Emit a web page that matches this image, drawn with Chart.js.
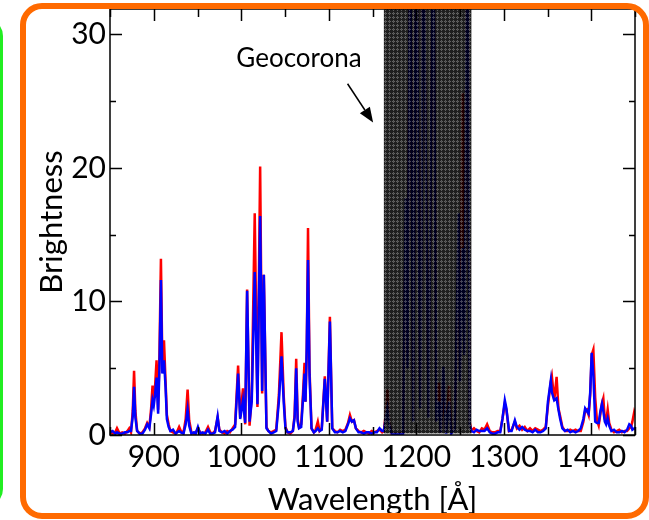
<!DOCTYPE html>
<html>
<head>
<meta charset="utf-8">
<title>Spectrum</title>
<script src="https://cdn.jsdelivr.net/npm/chart.js@4.4.0/dist/chart.umd.min.js"></script>
<style>
  html, body { margin: 0; padding: 0; background: #fff; }
  #wrap { position: relative; width: 649px; height: 520px; overflow: hidden; background: #fff; }
  #spectrum { position: absolute; left: 0; top: 0; }
  .box-orange {
    position: absolute; left: 20px; top: 3px; width: 617px; height: 504px;
    border: 6px solid #ff6a00; border-radius: 22px; pointer-events: none;
  }
  .box-green {
    position: absolute; left: -40px; top: 18px; width: 37px; height: 483px;
    border: 3px solid #22ee22; border-radius: 18px; pointer-events: none;
  }
</style>
</head>
<body>
<div id="wrap">
  <canvas id="spectrum" width="649" height="520"></canvas>
  <div class="box-green"></div>
  <div class="box-orange"></div>
</div>
<script>
// wavelength grid [Å]
const wavelength = [
  850, 853, 856, 858, 861, 864, 867, 870, 872, 874, 876, 877.5, 879, 881, 884, 887, 890, 892.5, 895, 897, 898.6, 900, 901.5, 903.2, 905, 906.5, 908.2, 909.8, 911.7, 913.5, 915, 917, 919,
  922, 925, 927, 929, 931, 934, 936.5, 938.7, 940.5, 943, 946, 948, 950.5, 953, 956, 959, 962, 964.5, 967, 970, 973, 975, 978, 981, 984, 987, 990, 993,
  996.4, 998.8, 1002, 1004.5, 1006.7, 1009.5, 1012, 1015.4, 1018.5, 1021.6, 1023.9, 1025.8, 1028.8, 1031,
  1034, 1037, 1040, 1043, 1046, 1048.5, 1050.5, 1053, 1056, 1059, 1061, 1062.8, 1064.5, 1066, 1068.5, 1070.5, 1072.3, 1073.4, 1074.8, 1076.3, 1078, 1080.3, 1083, 1085, 1087.5, 1089.5, 1092, 1095.5, 1098.2, 1101.3, 1104,
  1107, 1110, 1113, 1116, 1119, 1122, 1124.2, 1126.5, 1128.8, 1131, 1134, 1137, 1140, 1143, 1146, 1149, 1152, 1155, 1158, 1161,
  1163, 1165, 1167, 1169, 1172, 1180, 1185, 1188, 1190, 1193, 1196.5, 1200, 1204.5, 1206, 1208, 1214, 1219.5, 1223, 1226, 1228, 1231, 1234, 1237.5, 1240, 1244, 1248.5, 1250, 1253, 1255, 1258.5, 1261, 1263,
  1266, 1269, 1272, 1275, 1278, 1281, 1284, 1287, 1290, 1293, 1296, 1298.5, 1301.2, 1303, 1306, 1309, 1312.7, 1315, 1318, 1321, 1324, 1327, 1330, 1333, 1336, 1339, 1342, 1345, 1348,
  1350.5, 1353.8, 1355, 1357.7, 1360.4, 1362.5, 1364.5, 1367, 1370, 1373, 1376, 1379, 1382, 1385, 1388, 1391, 1393, 1395, 1397, 1398.8, 1400.5, 1402.4, 1404.5, 1406.5, 1408.5, 1410.5, 1412.3, 1413.8, 1415.5, 1417, 1418.8, 1420.5, 1423, 1426, 1429, 1432, 1435, 1438, 1441, 1443.5, 1445.5, 1447, 1449.2, 1450
];

// red spectrum
const fluxRed = [
  0.3, 0.1, 0.2, 0.5, 0.1, 0.2, 0.1, 0.3, 0.5, 0.2, 1.8, 4.8, 1.8, 0.3, 0.1, 0.2, 0.5, 0.9, 0.6, 2.0, 3.7, 3.0, 3.6, 5.6, 1.9, 6.0, 13.2, 5.5, 7.1, 4.0, 1.5, 0.8, 0.3,
  0.2, 0.1, 0.3, 0.6, 0.3, 0.2, 1.2, 3.4, 1.1, 0.2, 0.1, 0.2, 0.5, 0.2, 0.1, 0.2, 0.6, 0.2, 0.1, 0.3, 1.3, 0.4, 0.2, 0.1, 0.3, 0.2, 0.5, 0.8,
  5.2, 1.3, 3.5, 0.8, 10.9, 0.7, 3.0, 16.6, 2.1, 20.1, 3.1, 12.0, 0.6, 0.3,
  0.2, 0.3, 0.4, 3.0, 7.7, 3.0, 0.6, 0.2, 0.1, 0.3, 1.5, 5.7, 1.2, 0.6, 0.8, 3.0, 5.4, 2.5, 6.0, 15.5, 5.0, 0.5, 0.2, 0.4, 1.0, 0.3, 0.5, 4.4, 1.0, 8.85, 0.5,
  0.3, 0.2, 0.4, 0.3, 0.4, 0.9, 1.5, 1.0, 1.1, 0.5, 0.3, 0.2, 0.3, 0.2, 0.1, 0.3, 0.2, 0.3, 0.4, 0.2,
  0.3, 1.5, 3.4, 1.0, 0.1, 0.1, 0.2, 16, 6, 40, 1.2, 40, 2.2, 16, 40, 1.5, 40, 1.0, 3.9, 0.2, 3.0, 0.3, 3.7, 0.2, 0.5, 14, 5, 25.6, 8, 40, 1.0, 0.3,
  0.5, 0.3, 0.2, 0.5, 0.4, 0.8, 0.3, 0.2, 0.2, 0.3, 0.3, 1.2, 2.35, 1.9, 0.3, 0.4, 1.0, 0.5, 0.7, 0.4, 0.6, 0.3, 0.5, 0.3, 0.5, 0.4, 0.3, 0.4, 0.6,
  2.2, 4.0, 4.4, 2.6, 4.35, 2.0, 1.4, 0.6, 0.3, 0.3, 0.4, 0.3, 0.4, 0.3, 0.3, 1.0, 1.8, 1.9, 1.5, 3.0, 6.0, 6.4, 2.8, 1.1, 0.7, 1.6, 2.4, 2.75, 1.2, 1.0, 1.9, 0.9, 0.4, 0.2, 0.3, 0.4, 0.2, 0.3, 0.3, 0.5, 0.6, 1.0, 1.75, 1.6
];

// blue spectrum
const fluxBlue = [
  0.2, 0.3, 0.1, 0.2, 0.1, 0.1, 0.2, 0.2, 0.3, 0.3, 1.4, 3.6, 1.3, 0.3, 0.1, 0.1, 0.4, 0.8, 0.5, 1.6, 2.6, 2.2, 3.0, 4.3, 1.6, 5.0, 11.6, 4.6, 5.6, 3.6, 1.2, 0.6, 0.3,
  0.4, 0.1, 0.2, 0.3, 0.2, 0.1, 0.8, 1.9, 0.7, 0.1, 0.2, 0.1, 0.6, 0.1, 0.2, 0.1, 0.4, 0.1, 0.1, 0.2, 1.4, 0.3, 0.2, 0.3, 0.1, 0.3, 0.4, 0.6,
  4.6, 1.2, 2.6, 0.9, 10.8, 1.0, 2.5, 12.2, 2.3, 16.4, 3.3, 12.0, 0.5, 0.3,
  0.1, 0.2, 0.3, 2.5, 5.9, 2.5, 0.5, 0.2, 0.2, 0.3, 1.3, 5.0, 1.0, 0.5, 0.6, 2.6, 4.6, 2.5, 6.5, 13.1, 4.5, 0.5, 0.2, 0.3, 0.5, 0.3, 0.4, 4.2, 1.0, 8.5, 0.5,
  0.2, 0.2, 0.3, 0.2, 0.3, 0.8, 1.25, 1.0, 1.1, 0.5, 0.2, 0.2, 0.1, 0.2, 0.2, 0.1, 0.2, 0.2, 0.5, 0.3,
  0.3, 1.2, 2.0, 0.8, 0.1, 0.05, 0.1, 17.7, 5, 40, 1.0, 40, 2.0, 14, 40, 1.3, 40, 1.0, 2.5, 0.2, 5.1, 0.1, 2.5, 0.1, 0.5, 16.6, 4, 14, 6, 40, 0.8, 0.3,
  0.2, 0.4, 0.3, 0.3, 0.3, 0.5, 0.2, 0.1, 0.1, 0.2, 0.2, 1.2, 2.6, 2.0, 0.3, 0.3, 1.1, 0.6, 0.4, 0.6, 0.4, 0.3, 0.3, 0.2, 0.4, 0.2, 0.2, 0.3, 0.5,
  2.5, 4.1, 3.2, 2.6, 2.75, 1.9, 1.2, 0.5, 0.3, 0.4, 0.2, 0.3, 0.2, 0.3, 0.5, 1.2, 2.0, 1.8, 1.6, 3.2, 6.15, 4.5, 1.0, 0.9, 0.9, 1.8, 2.35, 1.8, 1.0, 0.8, 1.25, 0.7, 0.3, 0.4, 0.2, 0.2, 0.3, 0.2, 0.4, 0.8, 0.7, 0.4, 0.5, 0.4
];

const xTicks = [900, 1000, 1100, 1200, 1300, 1400];
const yTicks = [0, 10, 20, 30];

// shaded geocoronal emission band [Å]
const geocoronaBand = [1163, 1263];
const geocoronaText = { label: "Geocorona", x: 1066, y: 28.2 };
const geocoronaArrow = { from: [1121.5, 26.3], to: [1150.7, 23.4] };

const FONT = "Lato, 'Open Sans', sans-serif";

function makeBandPattern(ctx) {
  const tile = document.createElement("canvas");
  tile.width = 4;
  tile.height = 4;
  const t = tile.getContext("2d");
  t.fillStyle = "rgba(0,0,0,0.88)";
  t.fillRect(0, 0, 4, 4);
  t.clearRect(1, 0, 1, 3);
  t.clearRect(0, 1, 3, 1);
  t.fillStyle = "rgba(75,75,75,0.88)";
  t.fillRect(1, 0, 1, 3);
  t.fillRect(0, 1, 3, 1);
  return ctx.createPattern(tile, "repeat");
}

const decorPlugin = {
  id: "decor",
  afterDatasetsDraw(chart) {
    const { ctx, chartArea: a, scales: { x, y } } = chart;
    ctx.save();

    // geocorona band over the lines
    const bx0 = x.getPixelForValue(geocoronaBand[0]);
    const bx1 = x.getPixelForValue(geocoronaBand[1]);
    ctx.fillStyle = makeBandPattern(ctx);
    ctx.fillRect(bx0, a.top, bx1 - bx0, y.getPixelForValue(0) - 1.5 - a.top);

    // frame
    ctx.strokeStyle = "#000";
    ctx.lineWidth = 1.5;
    ctx.strokeRect(a.left, a.top, a.right - a.left, a.bottom - a.top);

    // inward ticks on all sides
    ctx.beginPath();
    for (let v = 850; v <= 1450; v += 50) {
      const px = Math.round(x.getPixelForValue(v)) + 0.5;
      const len = v % 100 === 0 ? 12 : 8;
      ctx.moveTo(px, a.bottom); ctx.lineTo(px, a.bottom - len);
      ctx.moveTo(px, a.top); ctx.lineTo(px, a.top + len);
    }
    for (let v = 0; v <= 30; v += 5) {
      const py = Math.round(y.getPixelForValue(v)) + 0.5;
      const len = v % 10 === 0 ? 12 : 6;
      ctx.moveTo(a.left, py); ctx.lineTo(a.left + len, py);
      ctx.moveTo(a.right, py); ctx.lineTo(a.right - len, py);
    }
    ctx.stroke();

    // label and arrow
    ctx.fillStyle = "#000";
    ctx.font = "26px " + FONT;
    ctx.textAlign = "center";
    ctx.textBaseline = "middle";
    ctx.fillText(geocoronaText.label, x.getPixelForValue(geocoronaText.x), y.getPixelForValue(geocoronaText.y));

    const ax0 = x.getPixelForValue(geocoronaArrow.from[0]);
    const ay0 = y.getPixelForValue(geocoronaArrow.from[1]);
    const ax1 = x.getPixelForValue(geocoronaArrow.to[0]);
    const ay1 = y.getPixelForValue(geocoronaArrow.to[1]);
    const ang = Math.atan2(ay1 - ay0, ax1 - ax0);
    const head = 15, half = 6;
    const hx = ax1 - head * Math.cos(ang), hy = ay1 - head * Math.sin(ang);
    ctx.lineWidth = 1.5;
    ctx.beginPath();
    ctx.moveTo(ax0, ay0);
    ctx.lineTo(hx, hy);
    ctx.stroke();
    ctx.beginPath();
    ctx.moveTo(ax1, ay1);
    ctx.lineTo(hx + half * Math.sin(ang), hy - half * Math.cos(ang));
    ctx.lineTo(hx - half * Math.sin(ang), hy + half * Math.cos(ang));
    ctx.closePath();
    ctx.fill();

    ctx.restore();
  }
};

function drawChart() {
  const ctx = document.getElementById("spectrum").getContext("2d");
  new Chart(ctx, {
    type: "line",
    data: {
      datasets: [
        {
          label: "red",
          data: wavelength.map((w, i) => ({ x: w, y: fluxRed[i] })),
          borderColor: "#ff0000",
          borderWidth: 2.5,
          pointRadius: 0,
          tension: 0,
          order: 2
        },
        {
          label: "blue",
          data: wavelength.map((w, i) => ({ x: w, y: fluxBlue[i] })),
          borderColor: "#0000ff",
          borderWidth: 2.5,
          pointRadius: 0,
          tension: 0,
          order: 1
        }
      ]
    },
    options: {
      responsive: false,
      animation: false,
      layout: { padding: { left: 29, top: 9, right: 14, bottom: 0 } },
      plugins: { legend: { display: false }, tooltip: { enabled: false } },
      scales: {
        x: {
          type: "linear",
          min: 850,
          max: 1450,
          afterBuildTicks: (s) => { s.ticks = xTicks.map((v) => ({ value: v })); },
          afterFit: (s) => { s.height = 85; s.paddingLeft = 0; s.paddingRight = 0; },
          grid: { display: false, drawTicks: false },
          border: { display: false },
          ticks: { color: "#000", font: { family: FONT, size: 30 }, padding: 4, maxRotation: 0, callback: (v) => String(v) },
          title: { display: true, text: "Wavelength [Å]", color: "#000", font: { family: FONT, size: 31 }, padding: { top: 0, bottom: 1 } }
        },
        y: {
          min: 0,
          max: 31.9,
          afterBuildTicks: (s) => { s.ticks = yTicks.map((v) => ({ value: v })); },
          afterFit: (s) => { s.width = 81; s.paddingTop = 0; s.paddingBottom = 0; },
          grid: { display: false, drawTicks: false },
          border: { display: false },
          ticks: { color: "#000", font: { family: FONT, size: 30 }, padding: 4, callback: (v) => String(v) },
          title: { display: true, text: "Brightness", color: "#000", font: { family: FONT, size: 31 }, padding: { top: 4, bottom: 4 } }
        }
      }
    },
    plugins: [decorPlugin]
  });
}

if (document.fonts && document.fonts.load) {
  document.fonts.load("30px Lato").then(drawChart, drawChart);
} else {
  drawChart();
}
</script>
</body>
</html>
